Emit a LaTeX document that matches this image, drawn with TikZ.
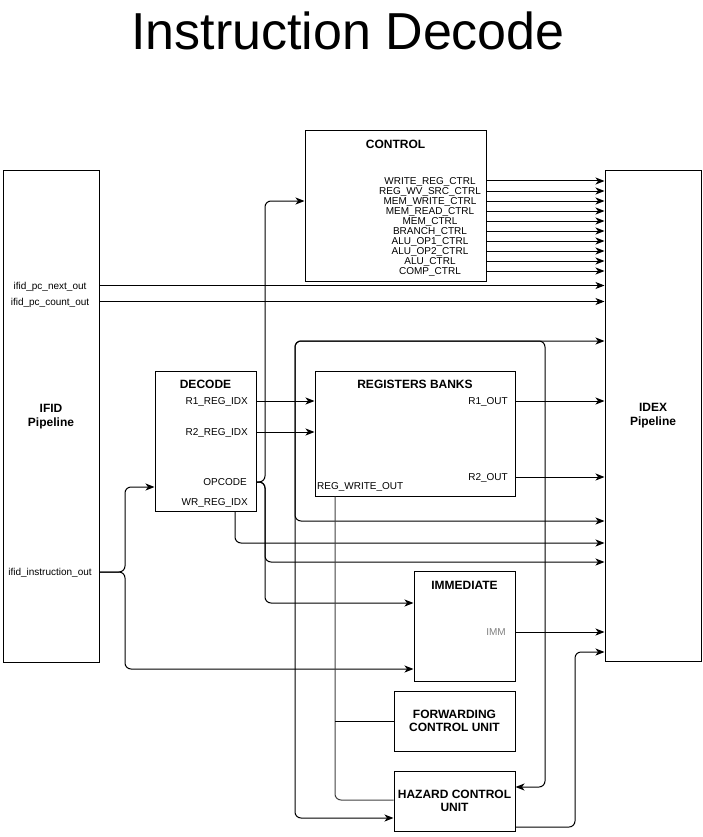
\documentclass[tikz,border=0pt]{standalone}
\usepackage{fontspec}
\setmainfont{Liberation Sans}
\usetikzlibrary{arrows.meta,positioning}
\tikzstyle{block} = [draw, line width=1pt, inner sep=0pt]
\tikzstyle{pipeline} = [block, minimum width=96, minimum height=490, align=center, font=\fontsize{12}{14}\selectfont\bfseries]
\tikzstyle{unit} = [block, align=center, font=\fontsize{12}{13}\selectfont\bfseries]
\tikzstyle{title} = [inner sep=0pt, text height=8.6pt, text depth=0pt, font=\fontsize{12}{14}\selectfont\bfseries]
\tikzstyle{signal} = [inner sep=0pt, text height=7pt, text depth=0pt, font=\fontsize{10}{10}\selectfont]
\tikzstyle{wire} = [line width=1pt, rounded corners=6pt]

\begin{document}
\begin{tikzpicture}[x=1pt, y=-1pt, >={Stealth[length=9pt,width=7pt,inset=2.5pt]}]
\useasboundingbox (0,0) rectangle (702,837);
   \node (Heading) at (348,50) [anchor=base, font=\fontsize{52}{52}\selectfont] {Instruction Decode};

   % pipeline registers
   \node (IfidPipeline) at (51,416.5) [pipeline, minimum height=491] {IFID\\Pipeline};
   \node (IdexPipeline) at (653,416) [pipeline] {IDEX\\Pipeline};

   % blocks
   \node (Control) at (395.5,206) [block, minimum width=181, minimum height=150] {};
   \node (Decode) at (205.5,441) [block, minimum width=101, minimum height=140] {};
   \node (RegistersBanks) at (415,433.5) [block, minimum width=200, minimum height=125] {};
   \node (Immediate) at (464.5,626) [block, minimum width=101, minimum height=110] {};
   \node (ForwardingUnit) at (454.5,721) [unit, minimum width=121, minimum height=60] {FORWARDING\\CONTROL UNIT};
   \node (HazardUnit) at (454.5,801) [unit, minimum width=121, minimum height=60] {HAZARD CONTROL\\UNIT};

   \node (ControlTitle) at (395.5,144) [title] {CONTROL};
   \node (DecodeTitle) at (205.5,384) [title] {DECODE};
   \node (RegistersTitle) at (415,384) [title] {REGISTERS BANKS};
   \node (ImmediateTitle) at (464.5,585) [title] {IMMEDIATE};

   % IFID outputs
   \node (PcNextOut) at (50,285.5) [signal] {ifid\_pc\_next\_out};
   \node (PcCountOut) at (50,301.5) [signal] {ifid\_pc\_count\_out};
   \node (InstructionOut) at (50,572) [signal] {ifid\_instruction\_out};

   % control signals
   \node (WriteRegCtrl) at (430,181) [signal] {WRITE\_REG\_CTRL};
   \node (RegWvSrcCtrl) at (430,191) [signal] {REG\_WV\_SRC\_CTRL};
   \node (MemWriteCtrl) at (430,201) [signal] {MEM\_WRITE\_CTRL};
   \node (MemReadCtrl) at (430,211) [signal] {MEM\_READ\_CTRL};
   \node (MemCtrl) at (430,221) [signal] {MEM\_CTRL};
   \node (BranchCtrl) at (430,231) [signal] {BRANCH\_CTRL};
   \node (AluOpOneCtrl) at (430,241) [signal] {ALU\_OP1\_CTRL};
   \node (AluOpTwoCtrl) at (430,251) [signal] {ALU\_OP2\_CTRL};
   \node (AluCtrl) at (430,261) [signal] {ALU\_CTRL};
   \node (CompCtrl) at (430,271) [signal] {COMP\_CTRL};

   % decode outputs
   \node (ROneRegIdx) at (248,401) [signal, anchor=east] {R1\_REG\_IDX};
   \node (RTwoRegIdx) at (248,432) [signal, anchor=east] {R2\_REG\_IDX};
   \node (Opcode) at (247,482) [signal, anchor=east] {OPCODE};
   \node (WrRegIdx) at (248,502) [signal, anchor=east] {WR\_REG\_IDX};

   % register outputs
   \node (ROneOut) at (508,401) [signal, anchor=east] {R1\_OUT};
   \node (RTwoOut) at (508,477) [signal, anchor=east] {R2\_OUT};
   \node (RegWriteOut) at (317,486) [signal, anchor=west] {REG\_WRITE\_OUT};
   \node (ImmOut) at (506,632) [signal, anchor=east, text=gray] {IMM};

   \coordinate (InstrBus) at (125,572);
   \coordinate (OpcodeBus) at (265,482);
   \coordinate (RegIdxTap) at (295,401);

   \draw[wire,->] (PcNextOut -| IfidPipeline.east) -- (PcNextOut -| IdexPipeline.west);
   \draw[wire,->] (PcCountOut -| IfidPipeline.east) -- (PcCountOut -| IdexPipeline.west);

   \draw[wire,->] (WriteRegCtrl -| Control.east) -- (WriteRegCtrl -| IdexPipeline.west);
   \draw[wire,->] (RegWvSrcCtrl -| Control.east) -- (RegWvSrcCtrl -| IdexPipeline.west);
   \draw[wire,->] (MemWriteCtrl -| Control.east) -- (MemWriteCtrl -| IdexPipeline.west);
   \draw[wire,->] (MemReadCtrl -| Control.east) -- (MemReadCtrl -| IdexPipeline.west);
   \draw[wire,->] (MemCtrl -| Control.east) -- (MemCtrl -| IdexPipeline.west);
   \draw[wire,->] (BranchCtrl -| Control.east) -- (BranchCtrl -| IdexPipeline.west);
   \draw[wire,->] (AluOpOneCtrl -| Control.east) -- (AluOpOneCtrl -| IdexPipeline.west);
   \draw[wire,->] (AluOpTwoCtrl -| Control.east) -- (AluOpTwoCtrl -| IdexPipeline.west);
   \draw[wire,->] (AluCtrl -| Control.east) -- (AluCtrl -| IdexPipeline.west);
   \draw[wire,->] (CompCtrl -| Control.east) -- (CompCtrl -| IdexPipeline.west);

   % instruction to decode and immediate
   \draw[wire,->] (InstructionOut -| IfidPipeline.east) -- (InstrBus) |- (Decode.west |- 0,487);
   \draw[wire,->] (InstructionOut -| IfidPipeline.east) -- (InstrBus) |- (Immediate.west |- 0,669);

   % opcode
   \draw[wire,->] (Opcode -| Decode.east) -- (OpcodeBus) |- (Control.west |- 0,201);
   \draw[wire,->] (Opcode -| Decode.east) -- (OpcodeBus) |- (IdexPipeline.west |- 0,562);
   \draw[wire,->] (Opcode -| Decode.east) -- (OpcodeBus) |- (Immediate.west |- 0,603);

   % register indexes
   \draw[wire,->] (ROneRegIdx -| Decode.east) -- (ROneRegIdx -| RegistersBanks.west);
   \draw[wire,->] (RTwoRegIdx -| Decode.east) -- (RTwoRegIdx -| RegistersBanks.west);
   \draw[wire,->] (RegIdxTap) |- (IdexPipeline.west |- 0,341);
   \draw[wire,->] (RegIdxTap) |- (545,341) |- (HazardUnit.east |- 0,787);
   \draw[wire,->] (RegIdxTap) |- (IdexPipeline.west |- 0,521);
   \draw[wire,->] (RegIdxTap) |- (HazardUnit.west |- 0,818);
   \draw[wire,->] (Decode.south -| 235,0) |- (IdexPipeline.west |- 0,543);

   % register outputs
   \draw[wire,->] (ROneOut -| RegistersBanks.east) -- (ROneOut -| IdexPipeline.west);
   \draw[wire,->] (RTwoOut -| RegistersBanks.east) -- (RTwoOut -| IdexPipeline.west);
   \draw[wire, black!75] (RegistersBanks.south -| 335,0) |- (HazardUnit.west |- 0,800);
   \draw[wire] (ForwardingUnit.west -| 335,0) -- (ForwardingUnit.west);

   \draw[wire,->] (ImmOut -| Immediate.east) -- (ImmOut -| IdexPipeline.west);
   \draw[wire,->] (HazardUnit.east |- 0,827) -| (575,652) -- (IdexPipeline.west |- 0,652);

\end{tikzpicture}
\end{document}
